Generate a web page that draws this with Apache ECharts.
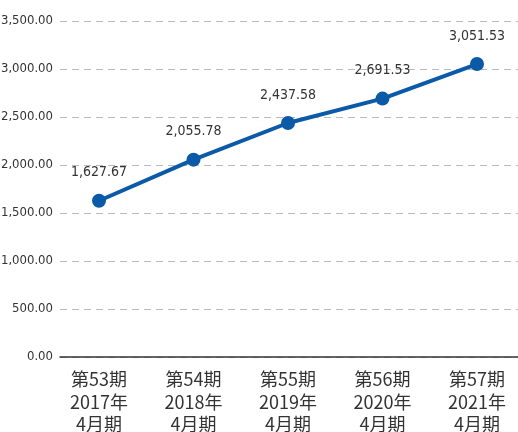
<!DOCTYPE html>
<html><head><meta charset="utf-8">
<script src="https://cdn.jsdelivr.net/npm/echarts@6/dist/echarts.min.js"></script>
<style>html,body{margin:0;padding:0;background:#fff}#c{width:518px;height:432px}</style>
</head><body><div id="c"></div>
<script>
const categories = ['第53期\n2017年\n4月期','第54期\n2018年\n4月期','第55期\n2019年\n4月期','第56期\n2020年\n4月期','第57期\n2021年\n4月期'];
const values = [1627.67, 2055.78, 2437.58, 2691.53, 3051.53];
const yTicks = [0, 500, 1000, 1500, 2000, 2500, 3000, 3500];

const numFont = '"DejaVu Sans Condensed", sans-serif';
const fmt = v => v.toLocaleString('en-US', {minimumFractionDigits: 2, maximumFractionDigits: 2});
const chart = echarts.init(document.getElementById('c'));
chart.setOption({
  animation: false,
  grid: {left: 60, right: 0, top: 21, bottom: 75, outerBoundsMode: 'none', containLabel: false},
  xAxis: {
    type: 'value', min: -0.4127, max: 4.434,
    splitLine: {show: false},
    axisLine: {show: true, lineStyle: {color: '#333', width: 1.5}},
    axisTick: {show: false},
    axisLabel: {
      customValues: [0,1,2,3,4],
      formatter: v => categories[Math.round(v)],
      fontFamily: 'Noto Sans CJK JP', fontSize: 18, lineHeight: 22.5, color: '#333', margin: 11
    }
  },
  yAxis: {
    type: 'value', min: 0, max: 3500, interval: 500,
    axisLine: {show: false}, axisTick: {show: false},
    splitLine: {lineStyle: {color: '#bbb', type: [7, 5], width: 1}},
    axisLabel: {formatter: v => fmt(v), fontFamily: numFont, fontSize: 13, color: '#333', margin: 7}
  },
  series: [{
    type: 'line',
    data: values.map((v, i) => [i, v]),
    lineStyle: {color: '#0a5aa8', width: 4},
    itemStyle: {color: '#0a5aa8'},
    symbol: 'circle', symbolSize: 14,
    label: {show: true, position: 'top', distance: 14, formatter: p => fmt(p.value[1]),
      fontFamily: numFont, fontSize: 14, color: '#333'}
  }]
});
</script></body></html>
